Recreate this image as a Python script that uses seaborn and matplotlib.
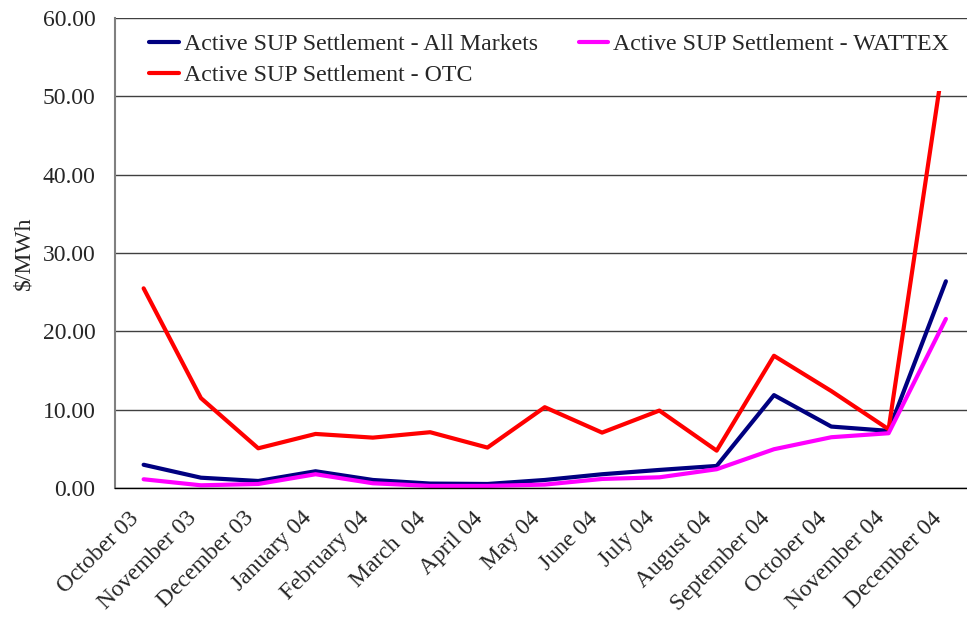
import numpy as np
import pandas as pd
import matplotlib
matplotlib.use("Agg")
import matplotlib.pyplot as plt
import seaborn as sns
from matplotlib.ticker import FormatStrFormatter

# -------------------------
# Data
# -------------------------
months = ["October 03", "November 03", "December 03", "January 04", "February 04",
          "March  04", "April 04", "May 04", "June 04", "July 04", "August 04",
          "September 04", "October 04", "November 04", "December 04"]

all_markets = [3.0, 1.35, 0.93, 2.17, 1.06, 0.6, 0.55, 1.06, 1.79, 2.34, 2.85,
               11.88, 7.87, 7.32, 26.4]
wattex = [1.15, 0.38, 0.55, 1.79, 0.64, 0.3, 0.3, 0.47, 1.19, 1.4, 2.43,
          4.98, 6.51, 7.02, 21.6]
otc = [25.5, 11.5, 5.1, 6.93, 6.46, 7.15, 5.19, 10.34, 7.1, 9.91, 4.8,
       16.9, 12.4, 7.53, 56.5]

series_names = ["Active SUP Settlement - All Markets",
                "Active SUP Settlement - OTC",
                "Active SUP Settlement - WATTEX"]
series_colors = ["#000080", "#FF0000", "#FF00FF"]

df = pd.DataFrame({
    "month": months * 3,
    "pos": list(range(len(months))) * 3,
    "value": all_markets + otc + wattex,
    "series": [series_names[0]] * len(months) + [series_names[1]] * len(months)
              + [series_names[2]] * len(months),
})

# -------------------------
# Plot
# -------------------------
sns.set_style("white")
plt.rcParams["font.family"] = ["Liberation Serif", "DejaVu Serif"]

fig = plt.figure(figsize=(9.67, 6.18), dpi=100)
ax = fig.add_axes([0.1189, 0.2099, 0.8889, 0.7613])

sns.lineplot(data=df, x="pos", y="value", hue="series", hue_order=series_names,
             palette=series_colors, linewidth=3, ax=ax, sort=False)

ax.set_xlim(-0.5, len(months) - 0.5)
ax.set_ylim(0, 60)
ax.set_yticks(np.arange(0, 61, 10))
ax.yaxis.set_major_formatter(FormatStrFormatter("%.2f"))
ax.yaxis.grid(True, color="#404040", linewidth=1)
ax.set_axisbelow(True)

# category boundaries carry the tick marks, labels sit at centres
ax.set_xticks(np.arange(-0.5, len(months), 1.0))
ax.set_xticklabels([])
ax.set_xticks(np.arange(len(months)), minor=True)
ax.set_xticklabels(months, minor=True, rotation=45, ha="right", fontsize=17)
ax.tick_params(axis="x", which="major", direction="out", length=8, width=1, color="black")
ax.tick_params(axis="x", which="minor", length=0, pad=14)
ax.tick_params(axis="y", direction="out", length=8, width=1, color="#404040",
               labelsize=17, pad=6)

ax.set_xlabel("")
ax.set_ylabel("$/MWh", fontsize=17, labelpad=6)

for side in ["top", "right"]:
    ax.spines[side].set_visible(False)
ax.spines["left"].set_color("#808080")
ax.spines["left"].set_linewidth(1.5)
ax.spines["bottom"].set_color("black")
ax.spines["bottom"].set_linewidth(1)

# legend has an opaque white box (no border) that hides the top of the OTC peak
handles, labels = ax.get_legend_handles_labels()
leg = ax.legend(handles, labels, loc="upper left", bbox_to_anchor=(0.0336, 0.978),
                ncol=2, fontsize=17.2, frameon=True, facecolor="white", edgecolor="none",
                framealpha=1, handlelength=1.25, handletextpad=0.2, columnspacing=1.7,
                labelspacing=0.38, borderpad=0.226, borderaxespad=0)
for line in leg.get_lines():
    line.set_linewidth(3)

fig.savefig("out.png", dpi=100)
